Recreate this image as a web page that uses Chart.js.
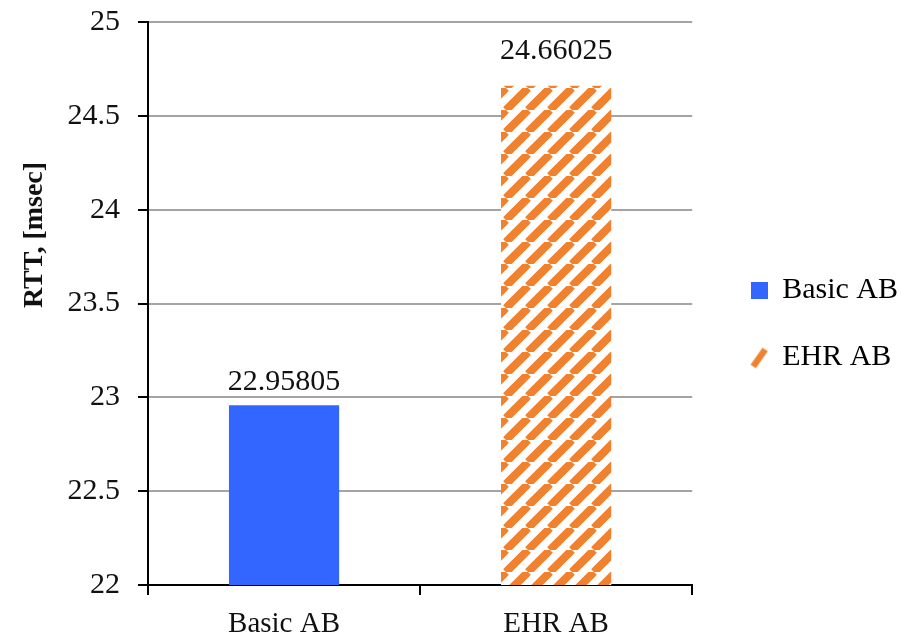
<!DOCTYPE html>
<html>
<head>
<meta charset="utf-8">
<script src="https://cdn.jsdelivr.net/npm/chart.js@4.4.1/dist/chart.umd.min.js"></script>
<style>
  html, body { margin: 0; padding: 0; background: #fff; }
  canvas { display: block; }
</style>
</head>
<body>
<canvas id="rttChart" width="902" height="642"></canvas>
<script>
// Round-trip time per scheme
const categories = ['Basic AB', 'EHR AB'];
const rttValues = [22.95805, 24.66025];
const yTickValues = [22, 22.5, 23, 23.5, 24, 24.5, 25];
const yAxisTitle = 'RTT, [msec]';

const FONT = "'Liberation Serif', 'Times New Roman', Times, serif";
const BLUE = '#3366ff';
const ORANGE = '#f0822f';
// gap between each bar top and its value label baseline (px)
const labelGaps = [15, 27];

const canvas = document.getElementById('rttChart');
const mainCtx = canvas.getContext('2d');

// Upward diagonal hatch ("/" stripes) on white
function makeHatch(size, width) {
  const tile = document.createElement('canvas');
  tile.width = tile.height = size;
  const g = tile.getContext('2d');
  g.fillStyle = '#ffffff';
  g.fillRect(0, 0, size, size);
  g.strokeStyle = ORANGE;
  g.lineWidth = width;
  for (let k = -1; k <= 1; k++) {
    g.beginPath();
    g.moveTo(k * size, size);
    g.lineTo(k * size + size, 0);
    g.stroke();
  }
  return mainCtx.createPattern(tile, 'repeat');
}

function legendSquare() {
  const c = document.createElement('canvas');
  c.width = 17; c.height = 17;
  const g = c.getContext('2d');
  g.fillStyle = BLUE;
  g.fillRect(0, 0, 17, 17);
  return c;
}

function legendStripe() {
  const c = document.createElement('canvas');
  c.width = 18; c.height = 24;
  const g = c.getContext('2d');
  g.strokeStyle = ORANGE;
  g.lineWidth = 6.5;
  g.beginPath();
  g.moveTo(3, 21);
  g.lineTo(15, 4);
  g.stroke();
  return c;
}

const hatch = makeHatch(22, 8);
const barFills = [BLUE, hatch];
const legendMarks = [legendSquare(), legendStripe()];

// Value printed above each bar
const valueLabels = {
  id: 'valueLabels',
  afterDatasetsDraw(chart) {
    const ctx = chart.ctx;
    const meta = chart.getDatasetMeta(0);
    const values = chart.data.datasets[0].data;
    ctx.save();
    ctx.font = '30px ' + FONT;
    ctx.fillStyle = '#111';
    ctx.textAlign = 'center';
    ctx.textBaseline = 'alphabetic';
    meta.data.forEach((bar, i) => {
      ctx.fillText(String(values[i]), bar.x, bar.y - labelGaps[i]);
    });
    ctx.restore();
  }
};

// Rotated bold y-axis title
const yTitle = {
  id: 'yTitle',
  afterDraw(chart) {
    const ctx = chart.ctx;
    ctx.save();
    ctx.translate(35, 235);
    ctx.rotate(-Math.PI / 2);
    ctx.font = 'bold 28px ' + FONT;
    ctx.fillStyle = '#111';
    ctx.textAlign = 'center';
    ctx.textBaseline = 'middle';
    ctx.fillText(yAxisTitle, 0, 0);
    ctx.restore();
  }
};

// Move the legend a little away from the plot area
const legendShift = {
  id: 'legendShift',
  afterLayout(chart) {
    const lg = chart.legend;
    lg.left += 22;
    lg.right += 22;
    lg.top -= 8;
    lg.bottom -= 8;
  }
};

new Chart(mainCtx, {
  type: 'bar',
  data: {
    labels: categories,
    datasets: [{
      label: 'RTT',
      data: rttValues,
      backgroundColor: barFills,
      borderWidth: 0,
      categoryPercentage: 1,
      barPercentage: 0.405
    }]
  },
  options: {
    responsive: false,
    animation: false,
    layout: { padding: { top: 22, right: 16, bottom: 0, left: 0 } },
    plugins: {
      tooltip: { enabled: false },
      legend: {
        position: 'right',
        labels: {
          usePointStyle: true,
          boxWidth: 16,
          boxHeight: 16,
          padding: 37,
          color: '#111',
          font: { family: FONT, size: 30 },
          generateLabels() {
            return categories.map((name, i) => ({
              text: name,
              pointStyle: legendMarks[i],
              fillStyle: i === 0 ? BLUE : ORANGE,
              strokeStyle: 'transparent',
              lineWidth: 0,
              hidden: false,
              index: i
            }));
          }
        }
      }
    },
    scales: {
      x: {
        afterFit(scale) {
          scale.height = 57;
          scale.paddingLeft = 0;
          scale.paddingRight = 0;
        },
        grid: {
          display: true,
          drawOnChartArea: false,
          offset: true,
          tickLength: 10,
          tickColor: '#000',
          lineWidth: 2
        },
        border: { color: '#000', width: 2 },
        ticks: {
          color: '#111',
          padding: 12,
          font: { family: FONT, size: 29 }
        }
      },
      y: {
        min: 22,
        max: 25,
        afterFit(scale) {
          scale.width = 148;
          scale.paddingTop = 0;
          scale.paddingBottom = 0;
        },
        afterBuildTicks(scale) {
          scale.ticks = yTickValues.map(v => ({ value: v }));
        },
        grid: {
          color: '#a4a4a4',
          lineWidth: 2,
          tickLength: 10,
          tickColor: '#000'
        },
        border: { color: '#000', width: 2 },
        ticks: {
          color: '#111',
          padding: 18,
          font: { family: FONT, size: 30 },
          callback: (value) => String(value)
        }
      }
    }
  },
  plugins: [valueLabels, yTitle, legendShift]
});
</script>
</body>
</html>
